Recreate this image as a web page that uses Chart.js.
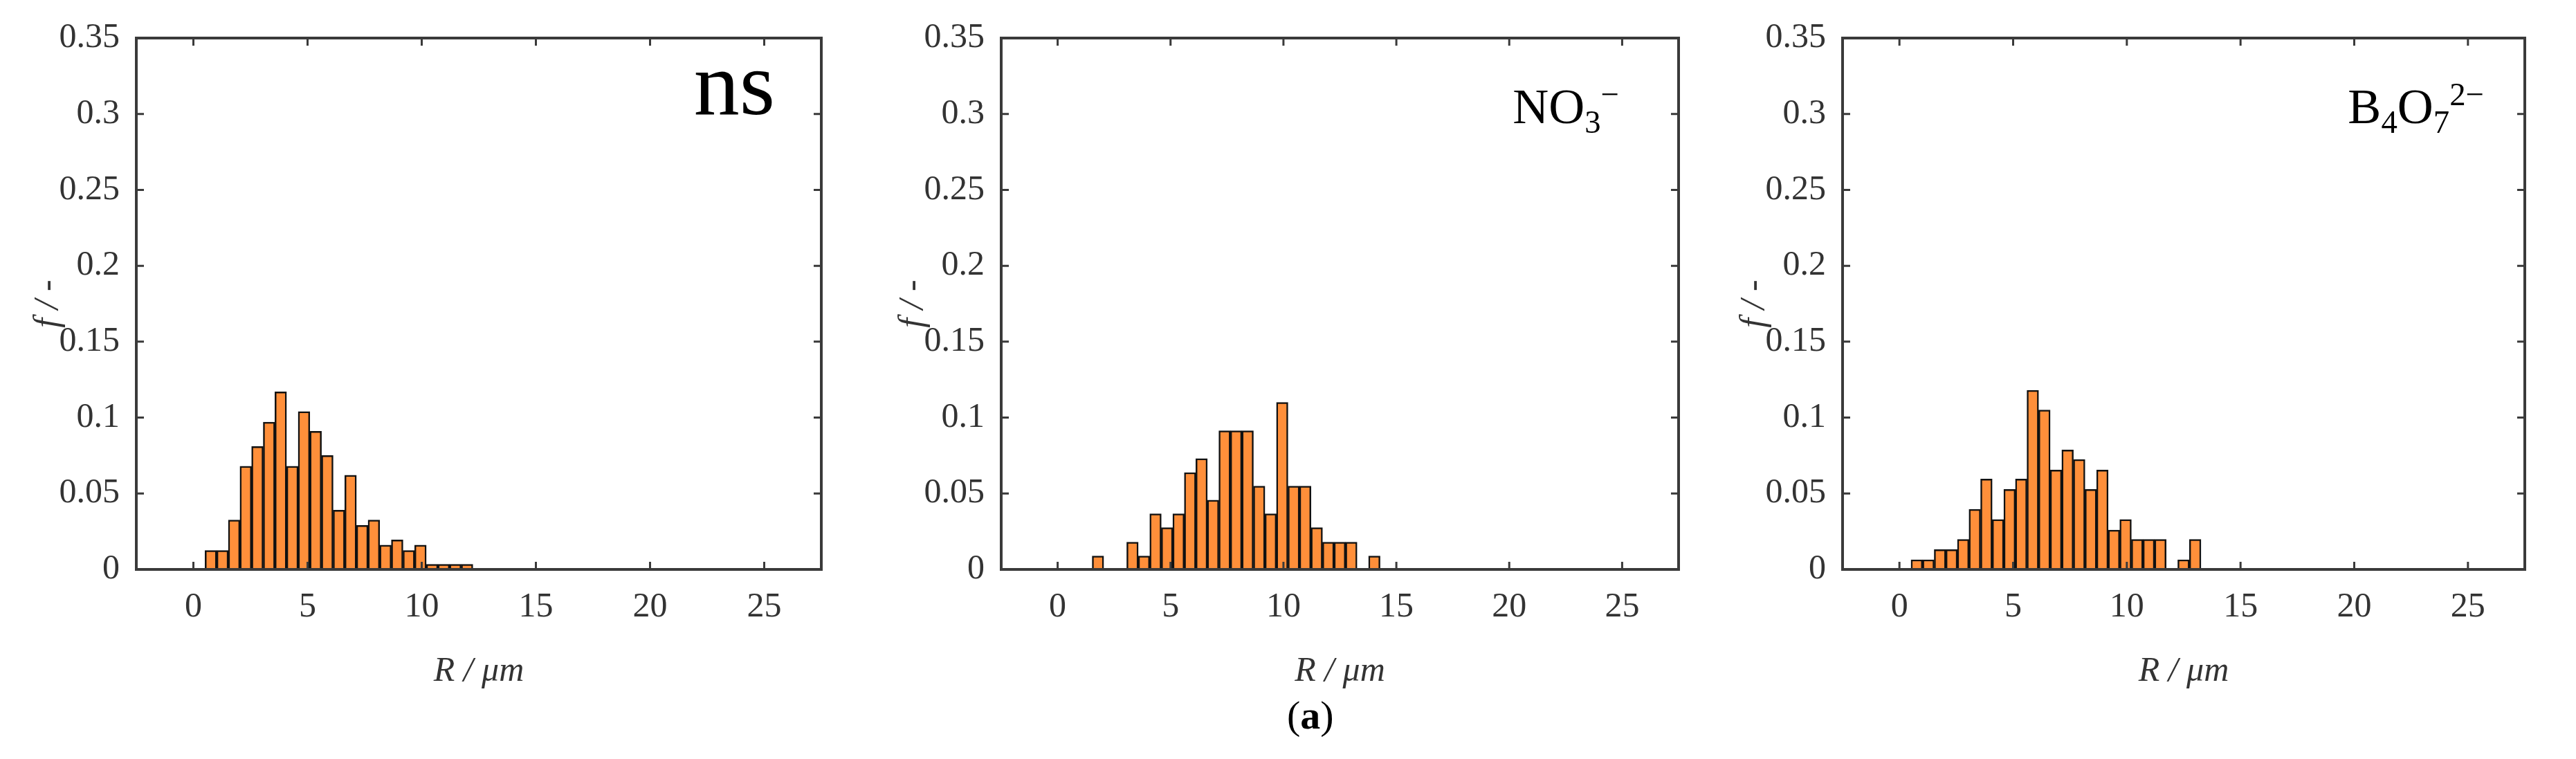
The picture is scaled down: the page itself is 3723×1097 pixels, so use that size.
<!DOCTYPE html>
<html><head><meta charset="utf-8">
<script src="https://cdn.jsdelivr.net/npm/chart.js@4/dist/chart.umd.min.js"></script>
<style>
body{margin:0;background:#fff;width:3723px;height:1097px;overflow:hidden;position:relative;font-family:"Liberation Serif",serif;}
canvas{position:absolute;top:0;}
.lbl{position:absolute;line-height:1;color:#000;white-space:nowrap;text-align:right;}
.lbl sub,.lbl sup{font-size:65%;line-height:0;position:relative;vertical-align:baseline;}
.lbl sub{top:0.3em;} .lbl sup{top:-0.55em;}
</style></head><body>
<canvas id="c1"></canvas><canvas id="c2"></canvas><canvas id="c3"></canvas>
<div class="lbl" style="font-size:132px;right:2603px;top:55px;">ns</div>
<div class="lbl" style="font-size:72px;right:1383px;top:118px;">NO<sub>3</sub><sup>−</sup></div>
<div class="lbl" style="font-size:72px;right:133px;top:118px;">B<sub>4</sub>O<sub>7</sub><sup>2−</sup></div>
<div style="position:absolute;left:1860px;top:1005px;font-size:58px;line-height:1;">(<b>a</b>)</div>
<script>
// bin width (μm) of the histograms; bin i spans [i*BIN, (i+1)*BIN]
const BIN = 0.51;
const xTicks = [0, 5, 10, 15, 20, 25];
const yTicks = [0, 0.05, 0.1, 0.15, 0.2, 0.25, 0.3, 0.35];
const fNs  = [0, 0.0125, 0.0125, 0.0326, 0.068, 0.081, 0.097, 0.117, 0.068, 0.104, 0.091, 0.075, 0.039, 0.062, 0.029, 0.0326, 0.016, 0.0195, 0.0125, 0.016, 0.0034, 0.0034, 0.0034, 0.0034];
const fNO3 = [0, 0, 0, 0.0088, 0, 0, 0.018, 0.0088, 0.0366, 0.0275, 0.0366, 0.0638, 0.073, 0.0457, 0.0913, 0.0913, 0.0913, 0.0549, 0.0366, 0.110, 0.0549, 0.0549, 0.0275, 0.018, 0.018, 0.018, 0, 0.0088];
const fB4O7 = [0, 0.0064, 0.0064, 0.0131, 0.0131, 0.0198, 0.0396, 0.0595, 0.0329, 0.0527, 0.0595, 0.118, 0.105, 0.0655, 0.0787, 0.0724, 0.0527, 0.0655, 0.0259, 0.0329, 0.0198, 0.0198, 0.0198, 0, 0.0064, 0.0198];

const AX = '#3a3a3a';
const boxTicks = {
  id:'boxTicks',
  afterDraw(chart){
    const {ctx, chartArea:a, scales:{x,y}} = chart;
    ctx.save(); ctx.strokeStyle = AX; ctx.lineWidth = 3;
    x.ticks.forEach(t=>{const p=x.getPixelForValue(t.value);
      ctx.beginPath();ctx.moveTo(p,a.bottom);ctx.lineTo(p,a.bottom-11);ctx.moveTo(p,a.top);ctx.lineTo(p,a.top+11);ctx.stroke();});
    y.ticks.forEach(t=>{const p=y.getPixelForValue(t.value);
      ctx.beginPath();ctx.moveTo(a.left,p);ctx.lineTo(a.left+11,p);ctx.moveTo(a.right,p);ctx.lineTo(a.right-11,p);ctx.stroke();});
    ctx.lineWidth = 4;
    ctx.strokeRect(a.left, a.top, a.right-a.left, a.bottom-a.top);
    ctx.restore();
  }
};
function make(id, left, width, padRight, vals){
  const cv = document.getElementById(id);
  cv.style.left = left+'px';
  cv.width = width; cv.height = 1000;
  const tickFont = {family:'Liberation Serif', size:50, lineHeight:1};
  new Chart(cv, {
    type:'bar',
    data:{datasets:[{data: vals.map((v,i)=>({x:(i+0.5)*BIN, y:v})),
      backgroundColor:'#ff8f3a', borderColor:'#111', borderWidth:2.5,
      categoryPercentage:1, barPercentage:1}]},
    options:{
      responsive:false, animation:false, devicePixelRatio:1,
      layout:{padding:{top:55, right:padRight, left:0, bottom:0}},
      plugins:{legend:{display:false}, tooltip:{enabled:false}},
      scales:{
        x:{type:'linear', min:0, max:25,
          afterBuildTicks:s=>{s.ticks = xTicks.map(v=>({value:v}));},
          afterFit:s=>{s.height = 177;},
          grid:{display:false}, border:{display:false},
          ticks:{font:tickFont, color:'#333', padding:22, maxRotation:0},
          title:{display:true, text:'R / μm', font:{family:'Liberation Serif', size:50, style:'italic', lineHeight:1}, color:'#333', padding:{top:6}}},
        y:{min:0, max:0.35,
          afterBuildTicks:s=>{s.ticks = yTicks.map(v=>({value:v}));},
          afterFit:s=>{s.width = 197;},
          grid:{display:false}, border:{display:false},
          ticks:{font:tickFont, color:'#333', padding:16, callback:v=>String(+v.toFixed(2))},
          title:{display:true, text:'f / -', font:{family:'Liberation Serif', size:50, style:'italic', lineHeight:1}, color:'#333', padding:{top:45, bottom:0}}}
      }
    },
    plugins:[boxTicks]
  });
}
make('c1', 0, 1230, 43, fNs);
make('c2', 1250, 1220, 44, fNO3);
make('c3', 2466, 1230, 47, fB4O7);
</script>
</body></html>
